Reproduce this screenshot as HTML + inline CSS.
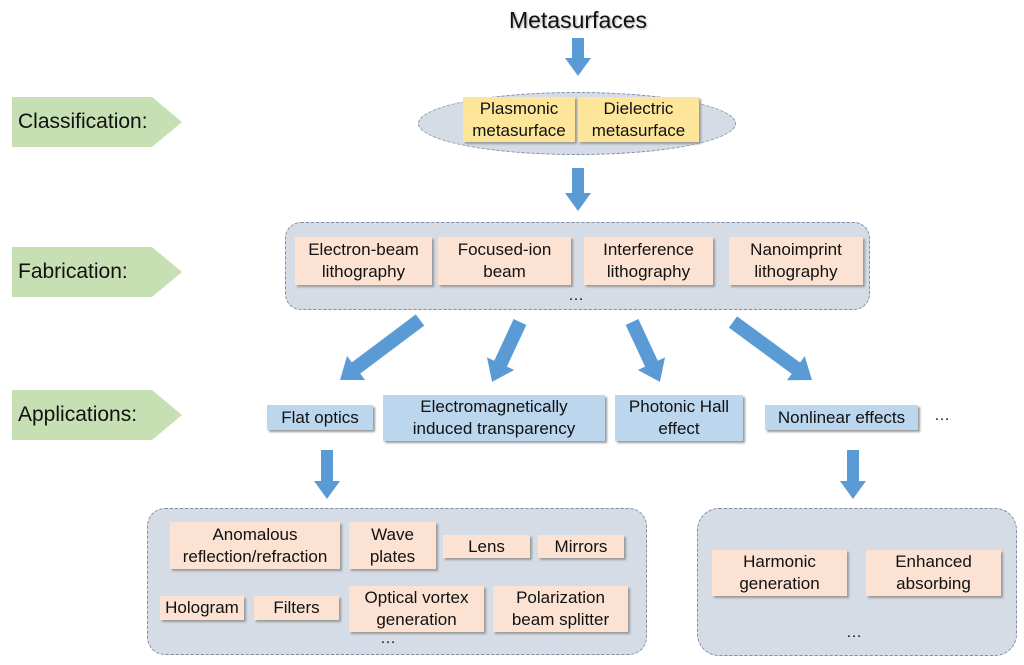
<!DOCTYPE html>
<html><head><meta charset="utf-8"><style>
body{margin:0;width:1024px;height:665px;background:#fff;position:relative;overflow:hidden;font-family:"Liberation Sans",Arial,sans-serif;color:#111}
.a{position:absolute;box-sizing:border-box;display:flex;align-items:center;justify-content:center;text-align:center;line-height:22px;font-size:17px}
.p{background:#fbe2d2;box-shadow:2px 2px 2px #999}
.y{background:#fde59a;box-shadow:2px 2px 2px #999}
.b{background:#bcd6ee;box-shadow:2px 2px 2px #999}
.g{position:absolute;border:1.3px dashed #7f8ea3;background:#d6dce6;box-sizing:border-box}
.lab{position:absolute;left:12px;width:170px;height:50px;background:#c6e0b4;clip-path:polygon(0 0,140px 0,170px 50%,140px 100%,0 100%);font-size:21px;display:flex;align-items:center;padding-left:6px;box-sizing:border-box}
.d{position:absolute;font-size:16px}
</style></head><body>
<div class="a" style="left:440px;top:5px;width:276px;height:30px;font-size:23px;text-shadow:1px 1px 2px #aaa">Metasurfaces</div>
<div class="lab" style="top:97px">Classification:</div>
<div class="lab" style="top:247px">Fabrication:</div>
<div class="lab" style="top:390px">Applications:</div>

<div class="g" style="left:418px;top:92px;width:318px;height:63px;border-radius:50%"></div>
<div class="a y" style="left:463px;top:97px;width:112px;height:45px">Plasmonic<br>metasurface</div>
<div class="a y" style="left:578px;top:97px;width:121px;height:45px">Dielectric<br>metasurface</div>

<div class="g" style="left:285px;top:222px;width:585px;height:88px;border-radius:16px"></div>
<div class="a p" style="left:295px;top:237px;width:137px;height:48px">Electron-beam<br>lithography</div>
<div class="a p" style="left:438px;top:237px;width:133px;height:48px">Focused-ion<br>beam</div>
<div class="a p" style="left:584px;top:237px;width:129px;height:48px">Interference<br>lithography</div>
<div class="a p" style="left:729px;top:237px;width:134px;height:48px">Nanoimprint<br>lithography</div>
<div class="d" style="left:568px;top:287px">…</div>

<div class="a b" style="left:267px;top:405px;width:106px;height:25px">Flat optics</div>
<div class="a b" style="left:383px;top:395px;width:222px;height:46px">Electromagnetically<br>induced transparency</div>
<div class="a b" style="left:615px;top:395px;width:128px;height:46px">Photonic Hall<br>effect</div>
<div class="a b" style="left:765px;top:405px;width:153px;height:25px">Nonlinear effects</div>
<div class="d" style="left:934px;top:407px">…</div>

<div class="g" style="left:147px;top:508px;width:500px;height:147px;border-radius:18px"></div>
<div class="a p" style="left:170px;top:522px;width:170px;height:47px">Anomalous<br>reflection/refraction</div>
<div class="a p" style="left:349px;top:522px;width:87px;height:47px">Wave<br>plates</div>
<div class="a p" style="left:443px;top:535px;width:87px;height:23px">Lens</div>
<div class="a p" style="left:538px;top:535px;width:86px;height:23px">Mirrors</div>
<div class="a p" style="left:160px;top:596px;width:84px;height:24px">Hologram</div>
<div class="a p" style="left:254px;top:596px;width:85px;height:24px">Filters</div>
<div class="a p" style="left:349px;top:586px;width:135px;height:46px">Optical vortex<br>generation</div>
<div class="a p" style="left:493px;top:586px;width:135px;height:46px">Polarization<br>beam splitter</div>
<div class="d" style="left:380px;top:630px">…</div>

<div class="g" style="left:697px;top:508px;width:320px;height:148px;border-radius:22px"></div>
<div class="a p" style="left:712px;top:550px;width:135px;height:46px">Harmonic<br>generation</div>
<div class="a p" style="left:866px;top:550px;width:135px;height:46px">Enhanced<br>absorbing</div>
<div class="d" style="left:846px;top:624px">…</div>

<svg width="1024" height="665" style="position:absolute;left:0;top:0" fill="#5b9bd5">
<g transform="translate(578,38) rotate(90)"><polygon points="0,-6 20,-6 20,-13 38,0 20,13 20,6 0,6"/></g>
<g transform="translate(578,168) rotate(90)"><polygon points="0,-6 25,-6 25,-13 43,0 25,13 25,6 0,6"/></g>
<g transform="translate(420,320) rotate(143.1)"><polygon points="0,-7 80,-7 80,-15 100,0 80,15 80,7 0,7"/></g>
<g transform="translate(520,322) rotate(115)"><polygon points="0,-7 46,-7 46,-15 66,0 46,15 46,7 0,7"/></g>
<g transform="translate(632,322) rotate(65)"><polygon points="0,-7 46,-7 46,-15 66,0 46,15 46,7 0,7"/></g>
<g transform="translate(733,322) rotate(36.3)"><polygon points="0,-7 78,-7 78,-15 98,0 78,15 78,7 0,7"/></g>
<g transform="translate(327,450) rotate(90)"><polygon points="0,-6 31,-6 31,-13 49,0 31,13 31,6 0,6"/></g>
<g transform="translate(853,450) rotate(90)"><polygon points="0,-6 31,-6 31,-13 49,0 31,13 31,6 0,6"/></g>
</svg>
</body></html>
